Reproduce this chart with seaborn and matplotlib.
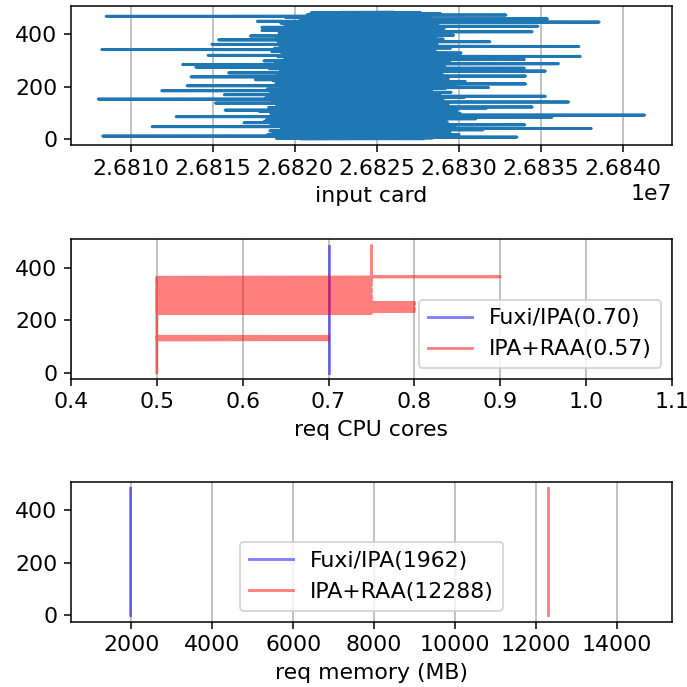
import numpy as np
import pandas as pd
import matplotlib
matplotlib.use("Agg")
import matplotlib.pyplot as plt
import seaborn as sns

# Input cardinality seen by each instance, in instance order
input_card = [
    26820430, 26827880, 26823950, 26818870, 26828410, 26824720, 26819660, 26833550, 26826390, 26821180,
    26829040, 26808295, 26824610, 26828650, 26820120, 26825870, 26818340, 26830020, 26822260, 26827150,
    26818650, 26825080, 26828930, 26821510, 26826240, 26819980, 26829470, 26823710, 26820860, 26827730,
    26824350, 26818480, 26828420, 26821840, 26826610, 26831480, 26819290, 26827980, 26822540, 26819210,
    26838080, 26825890, 26821060, 26828260, 26819770, 26826930, 26822180, 26811305, 26827540, 26820670,
    26829760, 26823210, 26818540, 26827020, 26834030, 26821390, 26826470, 26819850, 26828810, 26822860,
    26820040, 26827290, 26816900, 26824560, 26829310, 26821720, 26826060, 26818130, 26828540, 26822390,
    26827860, 26820580, 26825970, 26818260, 26829190, 26821960, 26826750, 26831050, 26822020, 26819490,
    26827640, 26823140, 26835680, 26820930, 26828090, 26812770, 26826310, 26821250, 26829620, 26822630,
    26819590, 26841330, 26824430, 26820760, 26827230, 26822290, 26830110, 26818540, 26826680, 26821570,
    26828370, 26823820, 26819420, 26827070, 26822470, 26817850, 26826140, 26829900, 26820360, 26825660,
    26815754, 26827480, 26821930, 26826830, 26818770, 26828710, 26822800, 26820210, 26831700, 26824290,
    26818410, 26827780, 26834480, 26821040, 26826560, 26819210, 26828990, 26822080, 26820490, 26827340,
    26823010, 26818880, 26829350, 26821680, 26826190, 26820810, 26827910, 26815168, 26824510, 26828480,
    26821290, 26836700, 26822560, 26818660, 26827600, 26823240, 26820050, 26829060, 26822170, 26826400,
    26819320, 26828230, 26808029, 26825900, 26821470, 26827170, 26818200, 26826020, 26830330, 26822420,
    26820330, 26827510, 26823080, 26835280, 26821150, 26828600, 26819060, 26826290, 26822740, 26815700,
    26827950, 26821820, 26825740, 26818500, 26828870, 26822230, 26826950, 26820690, 26829540, 26823370,
    26819450, 26827260, 26821610, 26826010, 26811891, 26823190, 26828340, 26820240, 26826720, 26822010,
    26818320, 26827820, 26823480, 26821000, 26829220, 26819130, 26831820, 26822880, 26826250, 26820450,
    26828050, 26822330, 26826880, 26813436, 26827390, 26821420, 26825850, 26818810, 26829830, 26822610,
    26834080, 26820920, 26826510, 26821790, 26828150, 26818910, 26824320, 26827700, 26820640, 26830400,
    26822120, 26826620, 26818690, 26828780, 26821330, 26825940, 26817600, 26827150, 26822480, 26819500,
    26829370, 26823270, 26821140, 26827560, 26819230, 26826340, 26822850, 26813676, 26827020, 26821560,
    26834080, 26823620, 26820170, 26828390, 26822060, 26826800, 26818950, 26829000, 26821890, 26825110,
    26827880, 26820540, 26815967, 26826080, 26822520, 26828620, 26819360, 26825550, 26821230, 26835280,
    26822940, 26819140, 26827300, 26823770, 26820830, 26829710, 26821470, 26826460, 26818450, 26827990,
    26834000, 26822200, 26826700, 26820370, 26813969, 26823050, 26828280, 26821680, 26826160, 26819080,
    26829150, 26822760, 26827040, 26820140, 26813170, 26823400, 26828820, 26836080, 26821960, 26826570,
    26818840, 26827670, 26822290, 26825830, 26820720, 26829450, 26821510, 26826900, 26818120, 26828010,
    26823190, 26820280, 26827440, 26834000, 26822570, 26819390, 26826230, 26821740, 26829290, 26823660,
    26820010, 26827150, 26822040, 26826780, 26818970, 26837410, 26821300, 26828460, 26823930, 26814715,
    26827330, 26822680, 26820590, 26826010, 26828920, 26821090, 26825480, 26819220, 26830150, 26822140,
    26826640, 26820860, 26827780, 26823250, 26818600, 26828570, 26821830, 26826350, 26822910, 26820460,
    26827950, 26808242, 26823720, 26828130, 26821410, 26826080, 26818760, 26829510, 26822330, 26825980,
    26820770, 26827590, 26822780, 26837330, 26826420, 26819110, 26828010, 26821670, 26825090, 26827230,
    26820200, 26814955, 26826760, 26822000, 26828690, 26819330, 26825380, 26827840, 26821190, 26826120,
    26818990, 26831900, 26822620, 26827450, 26820690, 26825860, 26828310, 26821880, 26815354, 26826550,
    26822170, 26829060, 26820040, 26827360, 26823510, 26818880, 26828560, 26821620, 26826270, 26822830,
    26820380, 26827910, 26823150, 26817300, 26826930, 26821350, 26829690, 26822490, 26819420, 26827180,
    26823600, 26820760, 26828070, 26821960, 26826390, 26819040, 26827720, 26822270, 26826010, 26834480,
    26821460, 26827010, 26822910, 26820220, 26818000, 26828240, 26823330, 26819270, 26826810, 26822050,
    26827530, 26820900, 26825770, 26829130, 26821300, 26826160, 26817992, 26823020, 26827950, 26820550,
    26834830, 26822360, 26826620, 26819420, 26828410, 26821710, 26825540, 26827280, 26820090, 26826880,
    26822560, 26828760, 26819150, 26823260, 26827620, 26821170, 26838560, 26826030, 26822170, 26817726,
    26827040, 26821590, 26825890, 26828350, 26820330, 26826510, 26822040, 26827740, 26835410, 26821030,
    26823700, 26828150, 26820280, 26826950, 26822480, 26819410, 26827500, 26823060, 26808508, 26821850,
    26828280, 26822910, 26826330, 26832880, 26820750, 26827030, 26823470, 26821330, 26828890, 26822600,
    26826170, 26820990, 26827680, 26822760, 26825950,
]

# Requested CPU cores per instance under IPA+RAA, as (value, run length) in instance order
raa_cpu_runs = [
    (0.5, 126), (0.7, 1), (0.5, 3), (0.7, 1), (0.5, 3), (0.7, 1), (0.5, 3), (0.7, 1),
    (0.5, 88), (0.75, 1), (0.5, 6), (0.8, 1), (0.5, 6), (0.8, 1), (0.5, 5), (0.8, 1),
    (0.5, 4), (0.75, 1), (0.5, 6), (0.8, 1), (0.5, 4), (0.8, 1), (0.5, 3), (0.8, 1),
    (0.5, 6), (0.75, 1), (0.5, 6), (0.75, 1), (0.5, 6), (0.75, 1), (0.5, 5), (0.75, 1),
    (0.5, 10), (0.75, 1), (0.5, 6), (0.75, 1), (0.5, 6), (0.75, 1), (0.5, 12), (0.75, 1),
    (0.5, 6), (0.75, 1), (0.5, 6), (0.75, 1), (0.5, 6), (0.75, 1), (0.5, 6), (0.75, 1),
    (0.5, 3), (0.75, 1), (0.9, 1), (0.75, 118),
]

# Fixed requests under Fuxi/IPA and the memory request under IPA+RAA
fuxi_cpu = 0.70
fuxi_mem = 1962
raa_mem = 12288

n = len(input_card)
instance = np.arange(n)
raa_cpu = np.repeat([v for v, _ in raa_cpu_runs], [c for _, c in raa_cpu_runs])

df = pd.DataFrame({
    "instance": instance,
    "input_card": input_card,
    "fuxi_cpu": np.full(n, fuxi_cpu),
    "raa_cpu": raa_cpu[:n],
    "fuxi_mem": np.full(n, fuxi_mem),
    "raa_mem": np.full(n, raa_mem),
})

plt.rcParams["font.family"] = ["DejaVu Sans"]
plt.rcParams["font.size"] = 11.5
fig, axes = plt.subplots(3, 1, figsize=(5, 5), dpi=137.4)

# panel boxes in figure fractions: left, bottom, width, height
left, width, height = 0.1033, 0.8748, 0.2031
for ax, bottom in zip(axes, [0.7885, 0.4483, 0.0953]):
    ax.set_position([left, bottom, width, height])

common = dict(y="instance", data=df, orient="y", estimator=None, sort=True)

# Input cardinality
ax = axes[0]
sns.lineplot(x="input_card", ax=ax, color="#1f77b4", linewidth=1.5, **common)
ax.set_xlabel("input card")

# CPU request
ax = axes[1]
sns.lineplot(x="fuxi_cpu", ax=ax, color="b", alpha=0.5, linewidth=1.5,
             label=f"Fuxi/IPA({fuxi_cpu:.2f})", **common)
sns.lineplot(x="raa_cpu", ax=ax, color="r", alpha=0.5, linewidth=1.5,
             label=f"IPA+RAA({df['raa_cpu'].mean():.2f})", **common)
ax.set_xlim(0.4, 1.1)
ax.set_xlabel("req CPU cores")
ax.legend(loc="lower right")

# Memory request
ax = axes[2]
sns.lineplot(x="fuxi_mem", ax=ax, color="b", alpha=0.5, linewidth=1.5,
             label=f"Fuxi/IPA({fuxi_mem})", **common)
sns.lineplot(x="raa_mem", ax=ax, color="r", alpha=0.5, linewidth=1.5,
             label=f"IPA+RAA({raa_mem})", **common)
ax.set_xlim(510, 15360)
ax.set_xlabel("req memory (MB)")
ax.legend(loc="lower center")

for ax in axes:
    ax.set_ylabel("")
    ax.set_yticks([0, 200, 400])
    ax.grid(axis="x")
    ax.set_axisbelow(True)

fig.savefig("out.png", dpi=137.4)
